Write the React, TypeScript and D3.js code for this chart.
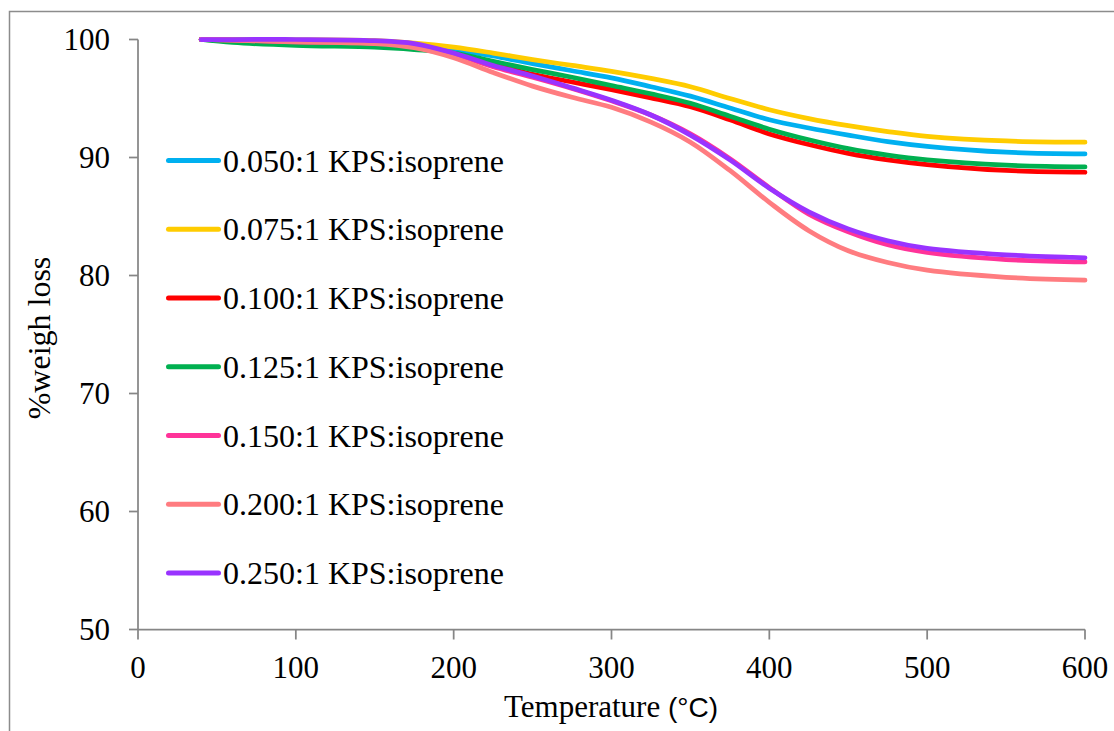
import * as d3 from 'd3';

const TEMPS = [40, 60, 100, 150, 175, 200, 225, 250, 275, 300, 325, 350, 375, 400, 425, 450, 475, 500, 550, 600];

const KPS_050 = [100, 100, 99.95, 99.85, 99.6, 99.15, 98.6, 97.95, 97.35, 96.75, 96.0, 95.2, 94.2, 93.2, 92.5, 91.9, 91.35, 90.95, 90.45, 90.3];
const KPS_075 = [100, 100, 99.97, 99.9, 99.7, 99.35, 98.85, 98.3, 97.8, 97.3, 96.7, 96.0, 95.0, 94.05, 93.3, 92.7, 92.2, 91.8, 91.4, 91.3];
const KPS_100 = [100, 99.85, 99.75, 99.6, 99.3, 98.75, 97.9, 97.05, 96.4, 95.75, 95.05, 94.3, 93.2, 92.0, 91.1, 90.35, 89.8, 89.4, 88.9, 88.75];
const KPS_125 = [100, 99.75, 99.5, 99.35, 99.15, 98.85, 98.15, 97.45, 96.8, 96.1, 95.4, 94.6, 93.5, 92.4, 91.5, 90.75, 90.2, 89.8, 89.35, 89.2];
const KPS_150 = [100, 99.95, 99.8, 99.7, 99.45, 98.75, 97.7, 96.8, 95.85, 94.8, 93.6, 92.0, 89.9, 87.45, 85.2, 83.7, 82.6, 81.95, 81.35, 81.15];
const KPS_200 = [100, 99.95, 99.8, 99.65, 99.3, 98.45, 97.2, 96.05, 95.1, 94.25, 93.0, 91.3, 88.9, 86.2, 83.8, 82.1, 81.1, 80.45, 79.85, 79.6];
const KPS_250 = [100, 100, 100, 99.9, 99.65, 98.85, 97.8, 96.9, 95.9, 94.85, 93.6, 91.9, 89.8, 87.4, 85.4, 83.95, 82.95, 82.3, 81.75, 81.5];

const SERIES_NAMES = [
  '0.050:1 KPS:isoprene',
  '0.075:1 KPS:isoprene',
  '0.100:1 KPS:isoprene',
  '0.125:1 KPS:isoprene',
  '0.150:1 KPS:isoprene',
  '0.200:1 KPS:isoprene',
  '0.250:1 KPS:isoprene',
];
const SERIES_VALUES = [KPS_050, KPS_075, KPS_100, KPS_125, KPS_150, KPS_200, KPS_250];
const SERIES_COLORS = ['#00b0f0', '#ffcc00', '#ff0000', '#00b050', '#ff3399', '#ff7c80', '#9933ff'];

const X_TICKS = [0, 100, 200, 300, 400, 500, 600];
const Y_TICKS = [50, 60, 70, 80, 90, 100];

const W = 1114;
const H = 731;
const AXIS_COLOR = '#868686';
const FONT = '"Liberation Serif", "Times New Roman", serif';

export default function App() {
  const x = d3.scaleLinear().domain([0, 600]).range([138, 1085]);
  const y = d3.scaleLinear().domain([50, 100]).range([629.5, 39.5]);

  const line = d3
    .line<[number, number]>()
    .x(d => x(d[0]))
    .y(d => y(d[1]))
    .curve(d3.curveCatmullRom.alpha(0.5));

  const legendY = d3.scaleLinear().domain([0, 6]).range([160.5, 573]);

  return (
    <svg
      width={W}
      height={H}
      style={{ position: 'fixed', left: 0, top: 0, background: 'white', fontFamily: FONT }}
    >
      {/* outer frame */}
      <rect x={9.5} y={11.5} width={W + 20} height={H + 20} fill="white" stroke="#8c8c8c" strokeWidth={1.5} />

      {/* axes */}
      <line x1={x(0)} x2={x(0)} y1={y(100)} y2={y(50)} stroke={AXIS_COLOR} strokeWidth={1.75} />
      <line x1={x(0)} x2={x(600)} y1={y(50)} y2={y(50)} stroke={AXIS_COLOR} strokeWidth={1.75} />
      {Y_TICKS.map(t => (
        <g key={t}>
          <line x1={x(0) - 9} x2={x(0)} y1={y(t)} y2={y(t)} stroke={AXIS_COLOR} strokeWidth={1.75} />
          <text x={110} y={y(t) + 10.5} textAnchor="end" fontSize={31} fill="#000">
            {t}
          </text>
        </g>
      ))}
      {X_TICKS.map(t => (
        <g key={t}>
          <line x1={x(t)} x2={x(t)} y1={y(50)} y2={y(50) + 10} stroke={AXIS_COLOR} strokeWidth={1.75} />
          <text x={x(t)} y={678} textAnchor="middle" fontSize={31} fill="#000">
            {t}
          </text>
        </g>
      ))}

      {/* axis titles */}
      <text x={611} y={717} textAnchor="middle" fontSize={31} fill="#000">
        Temperature{' '}
        <tspan fontFamily='"Liberation Sans", Arial, sans-serif' fontSize={28}>(°C)</tspan>
      </text>
      <text transform="translate(50,338) rotate(-90)" textAnchor="middle" fontSize={32} fill="#000">
        %weigh loss
      </text>

      {/* curves */}
      {SERIES_VALUES.map((vals, i) => (
        <path
          key={SERIES_NAMES[i]}
          d={line(TEMPS.map((t, j) => [t, vals[j]] as [number, number])) ?? ''}
          fill="none"
          stroke={SERIES_COLORS[i]}
          strokeWidth={4.75}
          strokeLinecap="round"
          strokeLinejoin="round"
        />
      ))}

      {/* legend */}
      {SERIES_NAMES.map((name, i) => (
        <g key={name} transform={`translate(0,${legendY(i)})`}>
          <line x1={168.5} x2={218.5} y1={0} y2={0} stroke={SERIES_COLORS[i]} strokeWidth={5} strokeLinecap="round" />
          <text x={223} y={11} fontSize={32} fill="#000">
            {name}
          </text>
        </g>
      ))}
    </svg>
  );
}
